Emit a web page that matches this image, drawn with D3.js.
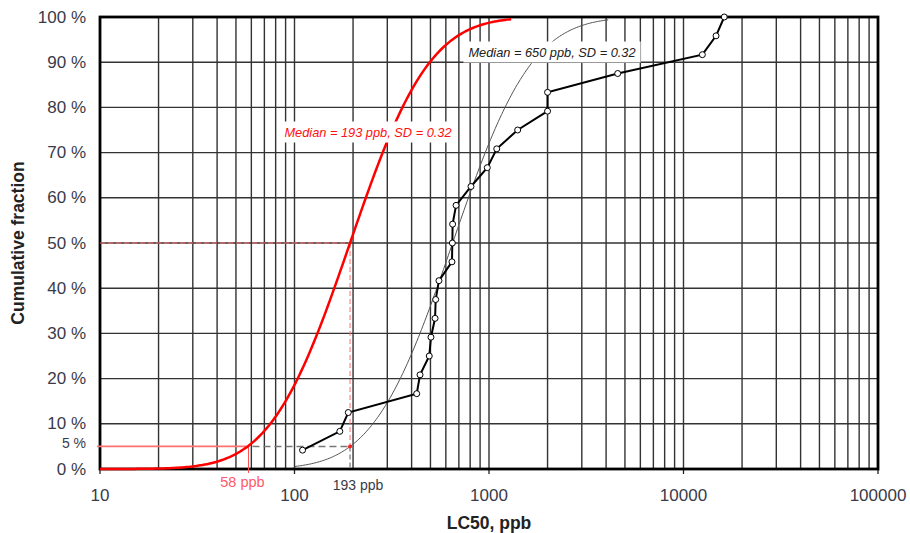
<!DOCTYPE html>
<html>
<head>
<meta charset="utf-8">
<script src="https://cdn.jsdelivr.net/npm/d3@7"></script>
<style>
  body { margin: 0; background: #fff; }
  svg { display: block; font-family: "Liberation Sans", Arial, sans-serif; }
</style>
</head>
<body>
<svg></svg>
<script>
// measured LC50 values (ppb), sorted, and their cumulative fractions
const lc50 = [110, 171, 189, 425, 442, 493, 503, 528, 532, 553, 645, 648, 650, 677, 808, 980, 1096, 1404, 2000, 2000, 4590, 12500, 14700, 16200];
const fractions = [1, 2, 3, 4, 5, 6, 7, 8, 9, 10, 11, 12, 13, 14, 15, 16, 17, 18, 19, 20, 21, 22, 23, 24].map(i => i / 24);

// fitted lognormal distributions (median in ppb, SD in log10 units)
const medians = [193, 650];
const sds = [0.32, 0.32];
const curveRanges = [[10, 1300], [100, 4100]];

// tick labels
const xTicks = [10, 100, 1000, 10000, 100000];
const yTicks = [0, 0.05, 0.1, 0.2, 0.3, 0.4, 0.5, 0.6, 0.7, 0.8, 0.9, 1];
const yGrid = [0.1, 0.2, 0.3, 0.4, 0.5, 0.6, 0.7, 0.8, 0.9];

// reference markers
const hc5Red = 58;
const hc5Gray = 193;

const w = 910;
const h = 533;
const margin = { top: 17, right: 32, bottom: 64, left: 100 };

const svg = d3.select("svg").attr("width", w).attr("height", h);

const x = d3.scaleLog().domain([10, 100000]).range([margin.left, w - margin.right]);
const y = d3.scaleLinear().domain([0, 1]).range([h - margin.bottom, margin.top]);

// normal cdf
function erf(z) {
  const t = 1 / (1 + 0.3275911 * Math.abs(z));
  const p = 1 - (((((1.061405429 * t - 1.453152027) * t) + 1.421413741) * t - 0.284496736) * t + 0.254829592) * t * Math.exp(-z * z);
  return z >= 0 ? p : -p;
}
const lnCdf = (v, med, sd) => 0.5 * (1 + erf((Math.log10(v) - Math.log10(med)) / (sd * Math.SQRT2)));

// vertical grid
const gridVals = [];
for (let dec = 10; dec < 100000; dec *= 10) {
  for (let k = 1; k <= 9; k++) gridVals.push(dec * k);
}
gridVals.push(100000);

svg.append("g")
  .selectAll("line")
  .data(gridVals)
  .join("line")
  .attr("x1", d => x(d)).attr("x2", d => x(d))
  .attr("y1", y(0)).attr("y2", y(1))
  .attr("stroke", "#333")
  .attr("stroke-width", 1.4);

// horizontal grid
svg.append("g")
  .selectAll("line")
  .data(yGrid)
  .join("line")
  .attr("x1", x(10)).attr("x2", x(100000))
  .attr("y1", d => y(d)).attr("y2", d => y(d))
  .attr("stroke", "#333")
  .attr("stroke-width", 1.4);

// decade ticks below axis
svg.append("g")
  .selectAll("line")
  .data(xTicks)
  .join("line")
  .attr("x1", d => x(d)).attr("x2", d => x(d))
  .attr("y1", y(0)).attr("y2", y(0) + 5)
  .attr("stroke", "#222")
  .attr("stroke-width", 1.3);

// frame
svg.append("rect")
  .attr("x", x(10)).attr("y", y(1))
  .attr("width", x(100000) - x(10))
  .attr("height", y(0) - y(1))
  .attr("fill", "none")
  .attr("stroke", "#000")
  .attr("stroke-width", 2.8);

// curves
const line = d3.line().x(d => x(d[0])).y(d => y(d[1]));
function curvePts(i) {
  const [a, b] = curveRanges[i];
  const pts = [];
  const n = 200;
  for (let j = 0; j <= n; j++) {
    const v = a * Math.pow(b / a, j / n);
    pts.push([v, lnCdf(v, medians[i], sds[i])]);
  }
  return pts;
}

// gray fitted curve
svg.append("path")
  .datum(curvePts(1))
  .attr("d", line)
  .attr("fill", "none")
  .attr("stroke", "#555")
  .attr("stroke-width", 1);

// reference lines
svg.append("line")
  .attr("x1", x(10) - 3).attr("x2", x(hc5Red))
  .attr("y1", y(0.05)).attr("y2", y(0.05))
  .attr("stroke", "#ff7070").attr("stroke-width", 1.8);
svg.append("line")
  .attr("x1", x(hc5Red)).attr("x2", x(hc5Red))
  .attr("y1", y(0.05)).attr("y2", y(0) + 4)
  .attr("stroke", "#ff5050").attr("stroke-width", 1);
svg.append("line")
  .attr("x1", x(hc5Red) + 4).attr("x2", x(hc5Gray))
  .attr("y1", y(0.05)).attr("y2", y(0.05))
  .attr("stroke", "#777").attr("stroke-width", 1.5)
  .attr("stroke-dasharray", "7,4");
svg.append("line")
  .attr("x1", x(hc5Gray)).attr("x2", x(hc5Gray))
  .attr("y1", y(0.05)).attr("y2", y(0))
  .attr("stroke", "#777").attr("stroke-width", 1.2)
  .attr("stroke-dasharray", "5,3");
svg.append("line")
  .attr("x1", x(10)).attr("x2", x(medians[0]))
  .attr("y1", y(0.5)).attr("y2", y(0.5))
  .attr("stroke", "#ff7070").attr("stroke-width", 1)
  .attr("stroke-dasharray", "5,3");
svg.append("line")
  .attr("x1", x(medians[0])).attr("x2", x(medians[0]))
  .attr("y1", y(0.5)).attr("y2", y(0.05))
  .attr("stroke", "#ff7070").attr("stroke-width", 1)
  .attr("stroke-dasharray", "5,3");
svg.append("circle")
  .attr("cx", x(hc5Gray)).attr("cy", y(0.05)).attr("r", 2)
  .attr("fill", "#ff2020");

// red fitted curve
svg.append("path")
  .datum(curvePts(0))
  .attr("d", line)
  .attr("fill", "none")
  .attr("stroke", "#ff0000")
  .attr("stroke-width", 2.5);

// empirical data
const pts = lc50.map((v, i) => [v, fractions[i]]);
svg.append("path")
  .datum(pts)
  .attr("d", line)
  .attr("fill", "none")
  .attr("stroke", "#000")
  .attr("stroke-width", 2);
svg.append("g")
  .selectAll("circle")
  .data(pts)
  .join("circle")
  .attr("cx", d => x(d[0])).attr("cy", d => y(d[1]))
  .attr("r", 3)
  .attr("fill", "#fff")
  .attr("stroke", "#000")
  .attr("stroke-width", 1);

// label boxes
function labelBox(cx, cy, txt, color) {
  const g = svg.append("g");
  const t = g.append("text")
    .attr("x", cx).attr("y", cy)
    .attr("text-anchor", "middle")
    .attr("dominant-baseline", "central")
    .attr("font-size", 12.8)
    .attr("font-style", "italic")
    .attr("fill", color)
    .text(txt);
  const bb = t.node().getBBox();
  g.insert("rect", "text")
    .attr("x", bb.x - 5).attr("y", bb.y - 3)
    .attr("width", bb.width + 10).attr("height", bb.height + 6)
    .attr("fill", "#fff");
}
labelBox(368, 132, `Median = ${medians[0]} ppb, SD = ${sds[0]}`, "#ff1010");
labelBox(552, 52, `Median = ${medians[1]} ppb, SD = ${sds[1]}`, "#222");

// axis labels
svg.append("g")
  .selectAll("text")
  .data(xTicks)
  .join("text")
  .attr("x", d => x(d))
  .attr("y", y(0) + 26)
  .attr("text-anchor", "middle")
  .attr("dominant-baseline", "central")
  .attr("font-size", 17)
  .attr("fill", "#3a3a48")
  .text(d => d);

svg.append("g")
  .selectAll("text")
  .data(yTicks)
  .join("text")
  .attr("x", x(10) - 14)
  .attr("y", d => y(d) + (d === 0.05 ? -3 : 0))
  .attr("text-anchor", "end")
  .attr("dominant-baseline", "central")
  .attr("font-size", d => d === 0.05 ? 14 : 17)
  .attr("fill", "#3a3a48")
  .text(d => `${Math.round(d * 100)} %`);

svg.append("text")
  .attr("x", x(hc5Red) - 6).attr("y", y(0) + 13)
  .attr("text-anchor", "middle")
  .attr("dominant-baseline", "central")
  .attr("font-size", 14.5)
  .attr("fill", "#ff5a6a")
  .text(`${hc5Red} ppb`);
svg.append("text")
  .attr("x", x(hc5Gray) + 8).attr("y", y(0) + 16)
  .attr("text-anchor", "middle")
  .attr("dominant-baseline", "central")
  .attr("font-size", 14)
  .attr("fill", "#3a3a48")
  .text(`${hc5Gray} ppb`);

svg.append("text")
  .attr("x", x(1000)).attr("y", 528.5)
  .attr("text-anchor", "middle")
  .attr("font-size", 17.5)
  .attr("font-weight", "bold")
  .attr("fill", "#222")
  .text("LC50, ppb");

svg.append("text")
  .attr("transform", `translate(18, ${y(0.5)}) rotate(-90)`)
  .attr("text-anchor", "middle")
  .attr("dominant-baseline", "central")
  .attr("font-size", 17.5)
  .attr("font-weight", "bold")
  .attr("fill", "#222")
  .text("Cumulative fraction");
</script>
</body>
</html>
